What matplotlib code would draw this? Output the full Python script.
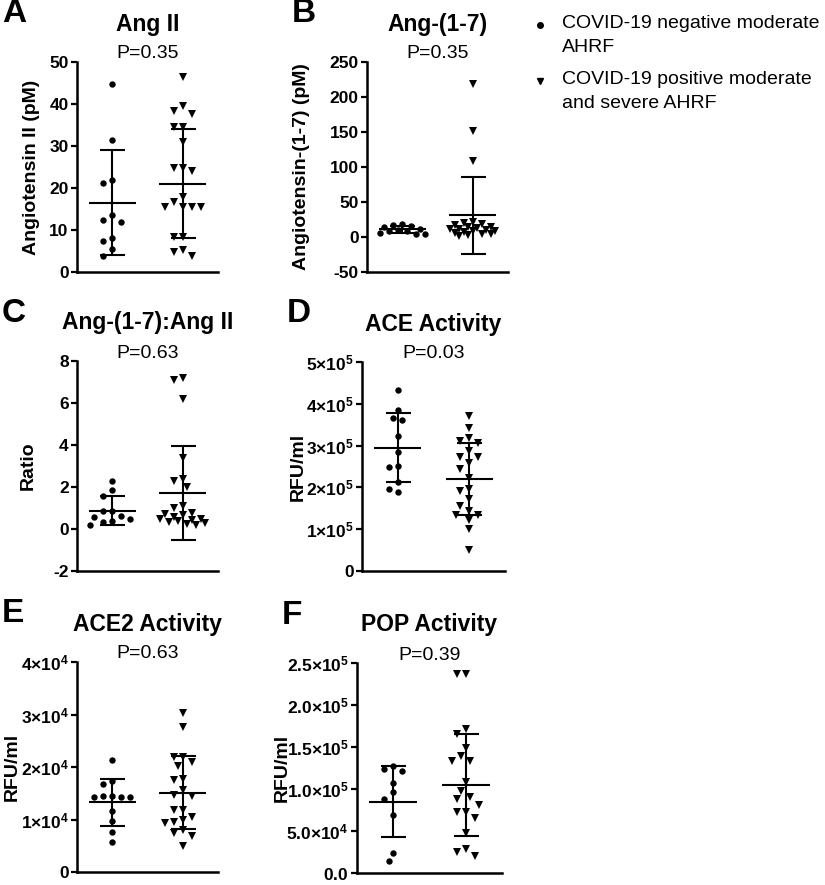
#!/usr/bin/env python3
# -*- coding: utf-8 -*-
"""
RAS peptides and enzyme activities, COVID-19 negative vs positive AHRF
"""
import numpy as np
import matplotlib
matplotlib.use('Agg')
import matplotlib.pyplot as plt
from matplotlib.lines import Line2D

plt.rcParams['font.family'] = ['Liberation Sans', 'DejaVu Sans']
plt.rcParams['mathtext.fontset'] = 'custom'
plt.rcParams['mathtext.rm'] = 'Liberation Sans'
plt.rcParams['mathtext.bf'] = 'Liberation Sans:bold'
plt.rcParams['axes.unicode_minus'] = False

W, H = 825, 885

# ---- data ----
angii_neg = [44.7, 31.5, 21.8, 21.1, 13.5, 12.0, 12.3, 7.5, 8.2, 5.4, 3.7]
angii_pos = [46.5, 39.5, 37.7, 38.3, 34.5, 34.5, 31.0, 24.8, 24.8, 24.0, 17.9,
             16.7, 15.5, 15.5, 15.5, 15.5, 8.3, 8.3, 5.3, 4.8, 3.7]
angii_mean = [16.5, 21.0]
angii_sd = [12.5, 13.0]

ang17_neg = [17, 16, 18, 15, 12, 10, 9, 8, 6, 5, 5]
ang17_pos = [218, 152, 109, 22, 20, 19, 17, 15, 14, 13, 12, 11, 10, 9, 8, 7,
             6, 5, 4, 3, 2]
ang17_mean = [11.0, 31.0]
ang17_sd = [4.8, 55.0]

ratio_neg = [2.3, 1.85, 1.55, 0.85, 0.85, 0.6, 0.55, 0.5, 0.4, 0.35, 0.2]
ratio_pos = [7.2, 7.1, 6.2, 3.4, 2.4, 2.3, 2.0, 1.1, 1.0, 0.75, 0.7, 0.65,
             0.55, 0.5, 0.5, 0.45, 0.4, 0.35, 0.3, 0.25, 0.2]
ratio_mean = [0.87, 1.72]
ratio_sd = [0.70, 2.24]

ace_neg = [4.32e5, 3.85e5, 3.65e5, 3.62e5, 3.22e5, 2.85e5, 2.52e5, 2.48e5,
           2.13e5, 1.97e5, 1.90e5]
ace_pos = [3.72e5, 3.42e5, 3.17e5, 3.12e5, 3.07e5, 2.87e5, 2.72e5, 2.72e5,
           2.59e5, 2.44e5, 2.22e5, 1.96e5, 1.92e5, 1.73e5, 1.55e5, 1.44e5,
           1.34e5, 1.34e5, 1.22e5, 1.00e5, 0.50e5]
ace_mean = [2.95e5, 2.20e5]
ace_sd = [0.83e5, 0.87e5]

ace2_neg = [2.13e4, 1.73e4, 1.68e4, 1.45e4, 1.43e4, 1.42e4, 1.42e4, 1.45e4,
            1.17e4, 0.97e4, 0.77e4, 0.57e4]
ace2_pos = [3.03e4, 2.77e4, 2.19e4, 2.19e4, 2.10e4, 2.02e4, 1.77e4, 1.75e4,
            1.56e4, 1.47e4, 1.45e4, 1.19e4, 1.19e4, 1.05e4, 1.00e4, 0.95e4,
            0.93e4, 0.80e4, 0.75e4, 0.69e4, 0.50e4]
ace2_mean = [1.33e4, 1.51e4]
ace2_sd = [0.45e4, 0.70e4]

pop_neg = [1.27e5, 1.24e5, 1.21e5, 1.07e5, 0.96e5, 0.88e5, 0.69e5, 0.24e5,
           0.14e5]
pop_pos = [2.37e5, 2.37e5, 1.71e5, 1.65e5, 1.49e5, 1.39e5, 1.33e5, 1.33e5,
           1.08e5, 0.98e5, 0.90e5, 0.88e5, 0.81e5, 0.73e5, 0.73e5, 0.66e5,
           0.48e5, 0.28e5, 0.25e5, 0.20e5]
pop_mean = [0.85e5, 1.05e5]
pop_sd = [0.42e5, 0.61e5]

sci5 = [r'$\mathbf{%d{\times}10^{5}}$' % i for i in range(1, 6)]
sci4 = [r'$\mathbf{%d{\times}10^{4}}$' % i for i in range(1, 5)]

# letter, title, p text, ylabel, neg, pos, mean, sd, ticks, ticklabels,
# axes box (px: left, top, right, bottom), ylabel x px
PANELS = [
    ('A', 'Ang II', 'P=0.35', 'Angiotensin II (pM)', angii_neg, angii_pos,
     angii_mean, angii_sd, [0, 10, 20, 30, 40, 50], None,
     (77, 62, 218, 272), 32),
    ('B', 'Ang-(1-7)', 'P=0.35', 'Angiotensin-(1-7) (pM)', ang17_neg,
     ang17_pos, ang17_mean, ang17_sd, [-50, 0, 50, 100, 150, 200, 250], None,
     (367, 62, 508, 272), 302),
    ('C', 'Ang-(1-7):Ang II', 'P=0.63', 'Ratio', ratio_neg, ratio_pos,
     ratio_mean, ratio_sd, [-2, 0, 2, 4, 6, 8], None,
     (77, 361, 218, 571), 28),
    ('D', 'ACE Activity', 'P=0.03', 'RFU/ml', ace_neg, ace_pos, ace_mean,
     ace_sd, [0, 1e5, 2e5, 3e5, 4e5, 5e5], ['0'] + sci5,
     (362, 362, 505, 571), 298),
    ('E', 'ACE2 Activity', 'P=0.63', 'RFU/ml', ace2_neg, ace2_pos, ace2_mean,
     ace2_sd, [0, 1e4, 2e4, 3e4, 4e4], ['0'] + sci4,
     (77, 662, 218, 872), 12),
    ('F', 'POP Activity', 'P=0.39', 'RFU/ml', pop_neg, pop_pos, pop_mean,
     pop_sd, [0, 0.5e5, 1e5, 1.5e5, 2e5, 2.5e5],
     [r'$\mathbf{0.0}$', r'$\mathbf{5.0{\times}10^{4}}$',
      r'$\mathbf{1.0{\times}10^{5}}$', r'$\mathbf{1.5{\times}10^{5}}$',
      r'$\mathbf{2.0{\times}10^{5}}$', r'$\mathbf{2.5{\times}10^{5}}$'],
     (357, 663, 502, 873), 282),
]


def fx(px):
    return px / W


def fy(py):
    return 1 - py / H


def swarm(vals, ppu_y, ppu_x, step=9.0, maxw=23.0):
    """Beeswarm offsets (data units), spread capped at +-maxw pixels."""
    vals = np.asarray(vals, dtype=float)
    offs = np.zeros(len(vals))
    placed = []
    cands = [0.0]
    j = 1
    while j * step / 2 <= maxw:
        cands += [-j * step / 2, j * step / 2]
        j += 1
    for i in np.argsort(vals)[::-1]:
        y = vals[i] * ppu_y
        best, best_d = 0.0, -1
        for c in cands:
            d = min([np.hypot(c - px, y - py) for py, px in placed] or [1e9])
            if d >= step:
                best = c
                break
            if d > best_d:
                best, best_d = c, d
        placed.append((y, best))
        offs[i] = best / ppu_x
    return offs


def draw_panel(fig, p):
    (letter, title, ptxt, ylab, neg, pos, mean, sd, ticks, tlabels,
     box, ylab_x) = p
    l, t, r, b = box
    ax = fig.add_axes([fx(l), fy(b), (r - l) / W, (b - t) / H])
    ymin, ymax = ticks[0], ticks[-1]
    ppu_y = (b - t) / (ymax - ymin)
    ppu_x = (r - l) / 2.0

    for k, (grp, mk, ms) in enumerate([(neg, 'o', 4.6), (pos, 'v', 5.6)]):
        xc = k + 1
        x = xc + swarm(grp, ppu_y, ppu_x)
        ax.plot(x, grp, ls='none', marker=mk, ms=ms, color='black',
                markeredgewidth=0, clip_on=False, zorder=3)
        ax.errorbar([xc], [mean[k]], yerr=[sd[k]], fmt='none', ecolor='black',
                    elinewidth=1.5, capsize=9, capthick=1.5, zorder=4)
        ax.hlines(mean[k], xc - 0.33, xc + 0.33, color='black', lw=1.5,
                  zorder=4)

    ax.set_xlim(0.5, 2.5)
    ax.set_ylim(ymin, ymax)
    ax.set_xticks([])
    ax.set_yticks(ticks)
    if tlabels is not None:
        ax.set_yticklabels(tlabels)
    for lab in ax.get_yticklabels():
        lab.set_fontweight('bold')
        lab.set_fontsize(12.5)
    ax.tick_params(axis='y', direction='out', length=4.5, width=1.6, pad=1.5)
    for s in ['top', 'right']:
        ax.spines[s].set_visible(False)
    for s in ['left', 'bottom']:
        ax.spines[s].set_linewidth(1.8)

    cx = (l + r) / 2
    fig.text(fx(l - 75), fy(t - 48), letter, fontsize=24, fontweight='bold',
             ha='left', va='center')
    fig.text(fx(cx), fy(t - 38), title, fontsize=16.5, fontweight='bold',
             ha='center', va='center')
    fig.text(fx(cx), fy(t - 8), ptxt, fontsize=14, ha='center',
             va='center')
    fig.text(fx(ylab_x), fy((t + b) / 2), ylab, fontsize=14,
             fontweight='bold', rotation=90, ha='center', va='center')
    return ax


def draw_legend(fig):
    fig.add_artist(Line2D([fx(540)], [fy(25)], marker='o', ms=4, color='black',
                          ls='none', transform=fig.transFigure))
    fig.add_artist(Line2D([fx(540)], [fy(81)], marker='v', ms=4, color='black',
                          ls='none', transform=fig.transFigure))
    fig.text(fx(562), fy(15), 'COVID-19 negative moderate\nAHRF', fontsize=14,
             ha='left', va='top', linespacing=1.55)
    fig.text(fx(562), fy(71), 'COVID-19 positive moderate\nand severe AHRF',
             fontsize=14, ha='left', va='top', linespacing=1.55)


def main():
    fig = plt.figure(figsize=(W / 100, H / 100), dpi=100)
    for p in PANELS:
        draw_panel(fig, p)
    draw_legend(fig)
    fig.savefig('out.png', dpi=100)


if __name__ == '__main__':
    main()
